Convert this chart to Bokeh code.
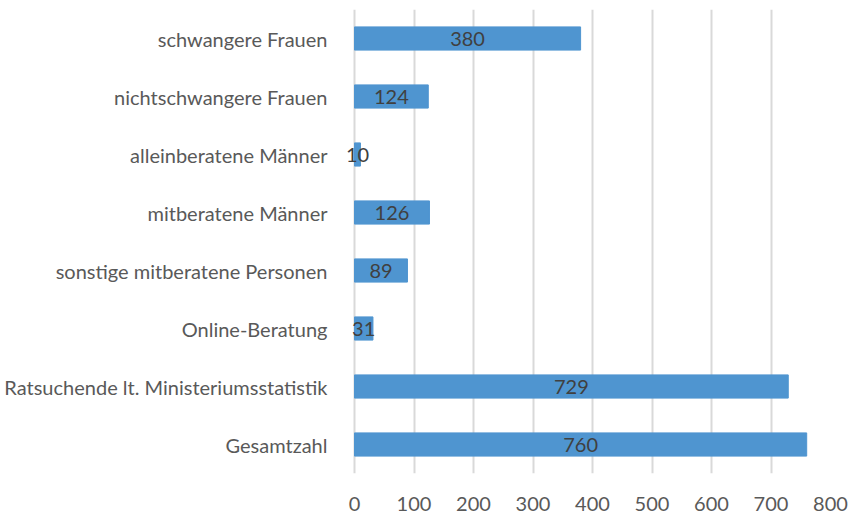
from bokeh.plotting import figure
from bokeh.models import ColumnDataSource, Range1d, FactorRange, FixedTicker, LabelSet
from bokeh.core.properties import value
from bokeh.embed import file_html
from bokeh.resources import INLINE

categories = [
    "schwangere Frauen",
    "nichtschwangere Frauen",
    "alleinberatene Männer",
    "mitberatene Männer",
    "sonstige mitberatene Personen",
    "Online-Beratung",
    "Ratsuchende lt. Ministeriumsstatistik",
    "Gesamtzahl",
]
counts = [380, 124, 10, 126, 89, 31, 729, 760]
x_ticks = [0, 100, 200, 300, 400, 500, 600, 700, 800]

FONT = "Lato"
FS = "20px"

src = ColumnDataSource(dict(
    cat=categories,
    val=counts,
    mid=[v / 2 for v in counts],
    lab=[str(v) for v in counts],
))

# small empty margin left of zero so that data labels near zero are not clipped
x_pad = 800 * 8 / 476

p = figure(
    width=848, height=513,
    y_range=FactorRange(factors=list(reversed(categories))),
    x_range=Range1d(-x_pad, 800),
    output_backend="svg", toolbar_location=None,
    min_border_left=346, min_border_right=18, min_border_top=9, min_border_bottom=38,
)
p.outline_line_color = None
p.background_fill_color = "white"
p.border_fill_color = "white"

p.hbar(y="cat", right="val", left=0, height=0.4, source=src,
       fill_color="#4f95d0", line_color="#4f95d0")

labels = LabelSet(x="mid", y="cat", text="lab", source=src,
                  text_align="center", text_baseline="middle",
                  text_font=value(FONT), text_font_size=FS, text_color="#404040")
p.add_layout(labels)

p.xaxis.ticker = FixedTicker(ticks=x_ticks)
p.xaxis.axis_line_color = None
p.xaxis.major_tick_line_color = None
p.xaxis.minor_tick_line_color = None
p.xaxis.major_label_text_font = FONT
p.xaxis.major_label_text_font_size = FS
p.xaxis.major_label_text_color = "#595959"
p.xaxis.major_label_standoff = 17

p.yaxis.axis_line_color = None
p.yaxis.major_tick_line_color = None
p.yaxis.minor_tick_line_color = None
p.yaxis.major_label_text_font = FONT
p.yaxis.major_label_text_font_size = FS
p.yaxis.major_label_text_color = "#595959"
p.yaxis.major_label_standoff = 13

p.xgrid.grid_line_color = "#d9d9d9"
p.xgrid.grid_line_width = 2
p.ygrid.grid_line_color = None

open("out.html", "w").write(file_html(p, INLINE))
